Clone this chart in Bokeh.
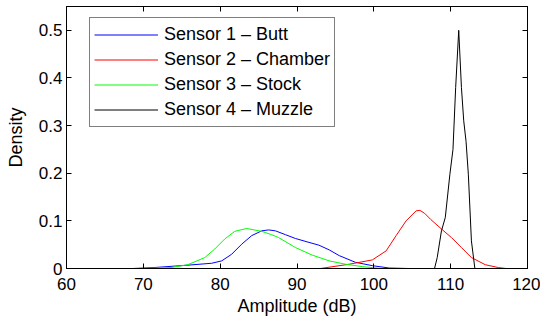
from bokeh.plotting import figure
from bokeh.models import LinearAxis, Legend, LegendItem, Range1d, FixedTicker
from bokeh.embed import file_html
from bokeh.resources import INLINE

# Sensor 1 - Butt
s1_x = [68.6, 71.4, 75.8, 78.9, 80.2, 81.5, 82.8, 84.1, 85.4, 86.3, 87.2, 88.5, 89.8, 91.3, 92.85, 94.2, 95.5, 97.6, 99.8, 102.0, 104.5]
s1_y = [0, 0.002, 0.007, 0.011, 0.016, 0.030, 0.051, 0.069, 0.079, 0.081, 0.079, 0.071, 0.063, 0.056, 0.049, 0.039, 0.027, 0.013, 0.006, 0.001, 0]
# Sensor 2 - Chamber
s2_x = [93.05, 96.8, 99.8, 101.6, 102.9, 104.2, 105.5, 106.0, 106.6, 107.4, 108.8, 110.1, 111.4, 112.7, 114.5, 116.2, 117.2]
s2_y = [0, 0.009, 0.018, 0.037, 0.069, 0.100, 0.121, 0.122, 0.116, 0.103, 0.083, 0.065, 0.044, 0.023, 0.008, 0.002, 0]
# Sensor 3 - Stock
s3_x = [70.1, 73.6, 75.8, 78.0, 79.3, 80.6, 81.9, 83.45, 85.4, 86.7, 87.6, 89.8, 92.0, 94.2, 96.3, 98.5, 101.0]
s3_y = [0, 0.002, 0.008, 0.023, 0.041, 0.062, 0.078, 0.084, 0.078, 0.071, 0.065, 0.044, 0.028, 0.016, 0.009, 0.004, 0]
# Sensor 4 - Muzzle
s4_x = [107.9, 108.25, 108.8, 109.3, 109.9, 110.3, 110.65, 111.05, 111.4, 111.7, 112.0, 112.3, 112.7, 113.15]
s4_y = [0, 0.023, 0.079, 0.107, 0.198, 0.250, 0.380, 0.500, 0.380, 0.310, 0.267, 0.198, 0.058, 0]

names = ["Sensor 1 \u2013 Butt", "Sensor 2 \u2013 Chamber", "Sensor 3 \u2013 Stock", "Sensor 4 \u2013 Muzzle"]
colors = ["#0000ff", "#ff0000", "#00ff00", "#000000"]
x_ticks = [60, 70, 80, 90, 100, 110, 120]
y_ticks = [0, 0.1, 0.2, 0.3, 0.4, 0.5]

FONT = "Liberation Sans"

p = figure(width=540, height=318, output_backend="svg", toolbar_location=None,
           x_range=Range1d(60, 120), y_range=Range1d(0, 0.55),
           min_border_left=66, min_border_right=13, min_border_top=6, min_border_bottom=10,
           x_axis_label="Amplitude (dB)", y_axis_label="Density")
p.background_fill_color = "white"
p.border_fill_color = "white"
p.outline_line_color = "black"
p.outline_line_width = 1
p.xgrid.visible = False
p.ygrid.visible = False

renderers = []
for xs, ys, c in zip([s1_x, s2_x, s3_x, s4_x], [s1_y, s2_y, s3_y, s4_y], colors):
    r = p.line(xs, ys, line_color=c, line_width=1)
    renderers.append(r)

xa = p.xaxis[0]
ya = p.yaxis[0]
xa.ticker = FixedTicker(ticks=x_ticks)
ya.ticker = FixedTicker(ticks=y_ticks)
for ax in (xa, ya):
    ax.axis_line_color = "black"
    ax.major_tick_in = 5
    ax.major_tick_out = 0
    ax.minor_tick_in = 0
    ax.minor_tick_out = 0
    ax.major_label_text_font = FONT
    ax.major_label_text_font_size = "17px"
    ax.major_label_text_color = "black"
    ax.axis_label_text_font = FONT
    ax.axis_label_text_font_size = "18px"
    ax.axis_label_text_font_style = "normal"
    ax.axis_label_text_color = "black"
xa.major_label_standoff = 9
xa.axis_label_standoff = 3
ya.major_label_standoff = 4
ya.axis_label_standoff = 10
ya.major_label_overrides = {0: "0"}

top = LinearAxis(ticker=FixedTicker(ticks=x_ticks))
right = LinearAxis(ticker=FixedTicker(ticks=y_ticks))
for ax in (top, right):
    ax.axis_line_color = "black"
    ax.major_tick_in = 5
    ax.major_tick_out = 0
    ax.minor_tick_in = 0
    ax.minor_tick_out = 0
    ax.major_label_text_font_size = "0px"
    ax.major_label_standoff = 0
    ax.major_label_text_alpha = 0
p.add_layout(top, "above")
p.add_layout(right, "right")

legend = Legend(items=[LegendItem(label=n, renderers=[r]) for n, r in zip(names, renderers)],
                location=(23, 141))
legend.border_line_color = "black"
legend.border_line_width = 1
legend.background_fill_alpha = 1
legend.label_text_font = FONT
legend.label_text_font_size = "18px"
legend.label_text_color = "black"
legend.padding = 4
legend.spacing = 0
legend.margin = 0
legend.label_height = 25
legend.glyph_height = 25
legend.glyph_width = 64
legend.label_standoff = 6
p.add_layout(legend, "center")

open("out.html", "w").write(file_html(p, INLINE))
